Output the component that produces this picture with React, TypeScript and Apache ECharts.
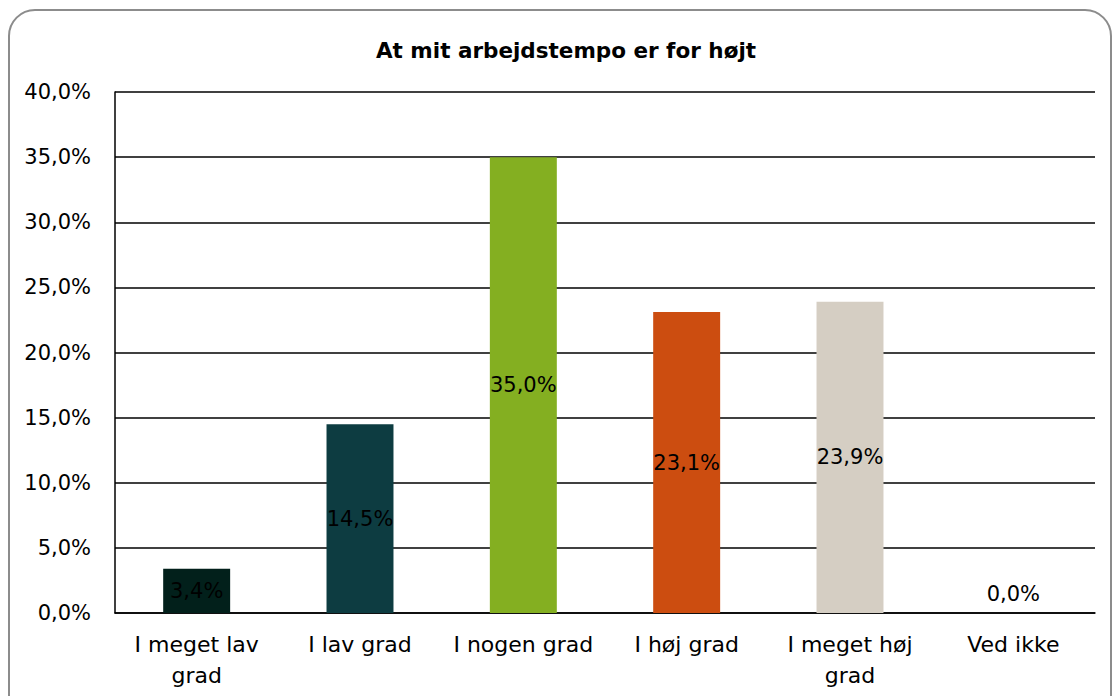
import React, { useEffect, useRef } from "react";
import * as echarts from "echarts";

const title = "At mit arbejdstempo er for højt";
const categories = ["I meget lav\ngrad", "I lav grad", "I nogen grad", "I høj grad", "I meget høj\ngrad", "Ved ikke"];
const values = [3.4, 14.5, 35.0, 23.1, 23.9, 0.0];
const colors = ["#02201b", "#0d3c41", "#84af21", "#cc4d10", "#d5cec3", "#ffffff"];

const FONT = "'DejaVu Sans', Verdana, sans-serif";
const fmt = (v: number) => v.toFixed(1).replace(".", ",") + "%";

export default function App() {
  const ref = useRef<HTMLDivElement>(null);
  useEffect(() => {
    if (!ref.current) return;
    const chart = echarts.init(ref.current, null, { renderer: "svg" });
    chart.setOption({
      animation: false,
      backgroundColor: "#ffffff",
      title: {
        text: title,
        left: 561,
        textAlign: "center",
        top: 34,
        textStyle: { fontFamily: FONT, fontSize: 21.5, fontWeight: "bold", color: "#000" },
      },
      graphic: [
        {
          type: "rect",
          z: -10,
          shape: { x: 9, y: 10, width: 1102, height: 720, r: 26 },
          style: { fill: "none", stroke: "#8c8c8c", lineWidth: 2 },
        },
      ],
      grid: { left: 115, right: 18, top: 92, bottom: 83 },
      xAxis: {
        type: "category",
        data: categories,
        axisLine: { lineStyle: { color: "#000", width: 1.5 } },
        axisTick: { show: false },
        axisLabel: {
          fontFamily: FONT,
          fontSize: 22,
          color: "#000",
          lineHeight: 31,
          margin: 16,
          interval: 0,
        },
      },
      yAxis: {
        type: "value",
        min: 0,
        max: 40,
        interval: 5,
        axisLine: { show: true, lineStyle: { color: "#000", width: 1.5 } },
        axisTick: { show: false },
        splitLine: { lineStyle: { color: "#000", width: 1.5 } },
        axisLabel: {
          fontFamily: FONT,
          fontSize: 21,
          color: "#000",
          margin: 24,
          formatter: (v: number) => fmt(v),
        },
      },
      series: [
        {
          type: "bar",
          barCategoryGap: "59%",
          data: values.map((v, i) => ({
            value: v,
            itemStyle: { color: colors[i] },
            label: v === 0 ? { position: "top", distance: 9 } : undefined,
          })),
          label: {
            show: true,
            position: "inside",
            fontFamily: FONT,
            fontSize: 21,
            color: "#000",
            formatter: (p: any) => fmt(p.value),
          },
        },
      ],
    });
    return () => chart.dispose();
  }, []);
  return (
    <div
      ref={ref}
      style={{ position: "absolute", left: 0, top: 0, width: 1113, height: 696 }}
    />
  );
}
